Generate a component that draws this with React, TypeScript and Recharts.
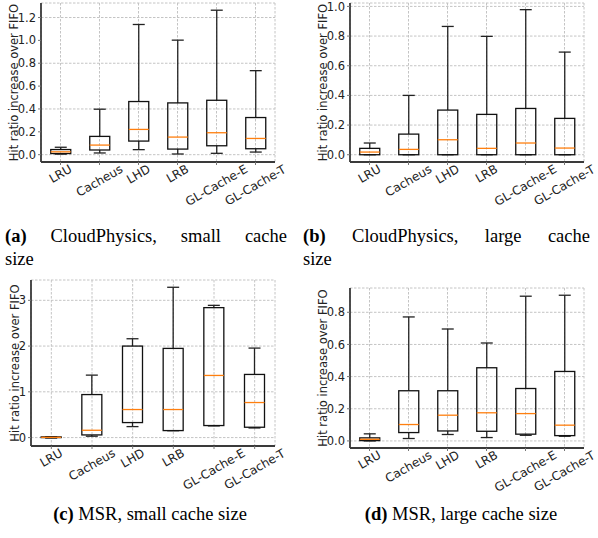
import { ComposedChart, Bar, XAxis, YAxis, CartesianGrid } from 'recharts';

const categories = ['LRU', 'Cacheus', 'LHD', 'LRB', 'GL-Cache-E', 'GL-Cache-T'];

// five-number summary per algorithm: [min, q1, median, q3, max]
const cpSmall = [
  [0.005, 0.01, 0.025, 0.045, 0.065],
  [0.015, 0.041, 0.084, 0.16, 0.398],
  [0.044, 0.119, 0.221, 0.465, 1.139],
  [0.006, 0.049, 0.154, 0.453, 1.002],
  [0.012, 0.078, 0.192, 0.476, 1.264],
  [0.023, 0.052, 0.142, 0.325, 0.735],
];
const cpLarge = [
  [0, 0, 0.018, 0.043, 0.079],
  [0, 0, 0.036, 0.139, 0.4],
  [0, 0, 0.101, 0.301, 0.865],
  [0, 0, 0.043, 0.272, 0.798],
  [0, 0, 0.079, 0.312, 0.978],
  [0, 0, 0.045, 0.245, 0.692],
];
const msrSmall = [
  [-0.01, 0.0, 0.005, 0.015, 0.02],
  [0.03, 0.058, 0.16, 0.94, 1.365],
  [0.24, 0.328, 0.613, 2.0, 2.16],
  [0.15, 0.153, 0.613, 1.949, 3.285],
  [0.255, 0.263, 1.358, 2.84, 2.89],
  [0.21, 0.226, 0.766, 1.38, 1.956],
];
const msrLarge = [
  [0, 0.002, 0.01, 0.019, 0.044],
  [0.015, 0.052, 0.102, 0.312, 0.771],
  [0.04, 0.062, 0.16, 0.312, 0.696],
  [0.021, 0.06, 0.175, 0.455, 0.609],
  [0.035, 0.042, 0.17, 0.326, 0.9],
  [0.029, 0.033, 0.098, 0.432, 0.906],
];

const ticksA = [0, 0.2, 0.4, 0.6, 0.8, 1.0, 1.2];
const ticksB = [0, 0.2, 0.4, 0.6, 0.8, 1.0];
const ticksC = [0, 1, 2, 3];
const ticksD = [0, 0.2, 0.4, 0.6, 0.8];

const yLabel = 'Hit ratio increase over FIFO';

const SANS = '"DejaVu Sans", sans-serif';
const SERIF = '"Liberation Serif", "Times New Roman", serif';
const spine = { stroke: '#3a3a3a', strokeWidth: 1.8 };
const XFONT = 12;

const toRows = (stats: number[][]) =>
  categories.map((name, i) => {
    const [min, q1, med, q3, max] = stats[i];
    return { name, min, q1, med, q3, max };
  });

// rough DejaVu Sans advance widths (em) for the tick labels
const charW: Record<string, number> = {
  L: 0.557, R: 0.695, U: 0.732, C: 0.698, a: 0.613, c: 0.55, h: 0.634, e: 0.615,
  u: 0.634, s: 0.521, H: 0.752, D: 0.77, B: 0.686, G: 0.775, '-': 0.361, E: 0.632, T: 0.611,
};
const textWidth = (s: string, size: number) =>
  s.split('').reduce((acc, ch) => acc + (charW[ch] ?? 0.6), 0) * size;

const XTick = (props: any) => {
  const { x, y, payload } = props;
  const label = String(payload.value);
  const w = textWidth(label, XFONT);
  const cy = y + w / 4 + 1;
  return (
    <text
      x={x}
      y={cy}
      textAnchor="middle"
      dominantBaseline="central"
      transform={`rotate(-30, ${x}, ${cy})`}
      fontSize={XFONT}
      fontFamily={SANS}
      fill="#222"
    >
      {label}
    </text>
  );
};

const BoxShape = (props: any) => {
  const { x, y, width, height, payload } = props;
  const top = Math.min(y, y + height);
  const bottom = Math.max(y, y + height);
  const { min, q1, med, q3, max } = payload;
  const span = max - min;
  const py = (v: number) => (span === 0 ? top : top + ((max - v) / span) * (bottom - top));
  const cx = x + width / 2;
  const cap = width * 0.3;
  return (
    <g>
      <line x1={cx} x2={cx} y1={py(max)} y2={py(q3)} stroke="#222" strokeWidth={1.3} />
      <line x1={cx} x2={cx} y1={py(q1)} y2={py(min)} stroke="#222" strokeWidth={1.3} />
      <line x1={cx - cap} x2={cx + cap} y1={py(max)} y2={py(max)} stroke="#222" strokeWidth={1.3} />
      <line x1={cx - cap} x2={cx + cap} y1={py(min)} y2={py(min)} stroke="#222" strokeWidth={1.3} />
      <rect x={x} y={py(q3)} width={width} height={py(q1) - py(q3)} fill="none" stroke="#111" strokeWidth={1.3} />
      <line x1={x} x2={x + width} y1={py(med)} y2={py(med)} stroke="#ff7f0e" strokeWidth={1.3} />
    </g>
  );
};

type PanelProps = {
  stats: number[][];
  ticks: number[];
  domain: [number, number];
  decimals: number;
  left: number;
  top: number;
  width: number;
  height: number;
  marginTop: number;
  marginRight: number;
  yWidth: number;
  xHeight: number;
  labelOffset: number;
};

const BoxPanel = (p: PanelProps) => {
  const data = toRows(p.stats);
  return (
    <div style={{ position: 'absolute', left: p.left, top: p.top }}>
      <ComposedChart
        width={p.width}
        height={p.height}
        data={data}
        margin={{ top: p.marginTop, right: p.marginRight, bottom: 0, left: 0 }}
        barCategoryGap="25%"
      >
        <CartesianGrid stroke="#c4c4c4" strokeDasharray="2.5 1.5" strokeWidth={1} />
        <XAxis
          dataKey="name"
          interval={0}
          height={p.xHeight}
          tick={<XTick />}
          tickSize={3}
          tickLine={{ stroke: '#777' }}
          axisLine={spine}
        />
        <XAxis xAxisId="top" dataKey="name" orientation="top" height={0} tick={false} tickLine={false} axisLine={spine} />
        <YAxis
          type="number"
          domain={p.domain}
          ticks={p.ticks}
          allowDataOverflow
          width={p.yWidth}
          tickSize={3}
          tickLine={{ stroke: '#777' }}
          axisLine={spine}
          tickFormatter={(v: number) => v.toFixed(p.decimals)}
          tick={{ fontSize: 11.5, fill: '#222', fontFamily: SANS }}
          label={{
            value: yLabel,
            content: (lp: any) => {
              const vb = lp.viewBox || {};
              const lx = vb.x + vb.width - p.labelOffset;
              const ly = vb.y + vb.height / 2;
              return (
                <text
                  x={lx}
                  y={ly}
                  textAnchor="middle"
                  dominantBaseline="central"
                  transform={`rotate(-90, ${lx}, ${ly})`}
                  fontSize={11.5}
                  fontFamily={SANS}
                  fill="#222"
                >
                  {yLabel}
                </text>
              );
            },
          }}
        />
        <YAxis
          yAxisId="right"
          orientation="right"
          type="number"
          domain={p.domain}
          allowDataOverflow
          width={0}
          tick={false}
          tickLine={false}
          axisLine={spine}
        />
        <Bar
          dataKey={(d: any) => [d.min, d.max]}
          shape={<BoxShape />}
          isAnimationActive={false}
        />
      </ComposedChart>
    </div>
  );
};

const captionStyle = {
  position: 'absolute' as const,
  fontFamily: SERIF,
  fontSize: 18.5,
  lineHeight: '22.6px',
  color: '#000',
  whiteSpace: 'nowrap' as const,
};

export default function App() {
  return (
    <div style={{ position: 'absolute', left: 0, top: 0, width: 598, height: 538, background: '#fff', overflow: 'hidden' }}>
      <BoxPanel stats={cpSmall} ticks={ticksA} domain={[-0.064, 1.327]} decimals={1}
        left={0} top={0} width={290} height={216} marginTop={3} marginRight={15} yWidth={41} xHeight={54} labelOffset={27} />
      <BoxPanel stats={cpLarge} ticks={ticksB} domain={[-0.049, 1.023]} decimals={1}
        left={298} top={0} width={300} height={216} marginTop={3} marginRight={14} yWidth={52} xHeight={54} labelOffset={27} />
      <BoxPanel stats={msrSmall} ticks={ticksC} domain={[-0.184, 3.444]} decimals={0}
        left={0} top={270} width={290} height={230} marginTop={10} marginRight={15} yWidth={31} xHeight={54} labelOffset={16} />
      <BoxPanel stats={msrLarge} ticks={ticksD} domain={[-0.044, 0.951]} decimals={1}
        left={298} top={270} width={300} height={230} marginTop={18} marginRight={14} yWidth={52} xHeight={52} labelOffset={27} />

      <div style={{ ...captionStyle, left: 5, top: 225, width: 282 }}>
        <div style={{ textAlign: 'justify', textAlignLast: 'justify', whiteSpace: 'normal' }}>
          <b>(a)</b> CloudPhysics, small cache
        </div>
        <div>size</div>
      </div>
      <div style={{ ...captionStyle, left: 303, top: 225, width: 287 }}>
        <div style={{ textAlign: 'justify', textAlignLast: 'justify', whiteSpace: 'normal' }}>
          <b>(b)</b> CloudPhysics, large cache
        </div>
        <div>size</div>
      </div>
      <div style={{ ...captionStyle, left: 10, top: 503, width: 280, textAlign: 'center' }}>
        <b>(c)</b> MSR, small cache size
      </div>
      <div style={{ ...captionStyle, left: 321, top: 503, width: 280, textAlign: 'center' }}>
        <b>(d)</b> MSR, large cache size
      </div>
    </div>
  );
}
